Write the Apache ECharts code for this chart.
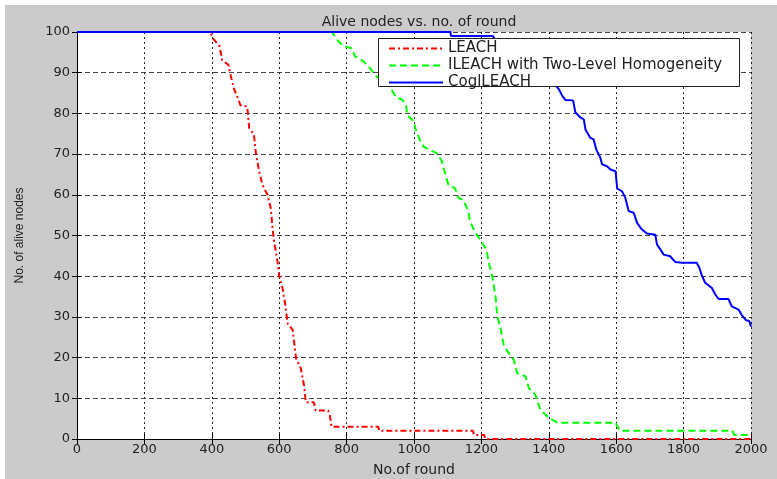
<!DOCTYPE html>
<html>
<head>
<meta charset="utf-8">
<script src="https://cdn.jsdelivr.net/npm/echarts@6/dist/echarts.min.js"></script>
<style>
  html, body { margin: 0; padding: 0; background: #fff; }
  #chart { position: absolute; left: 5px; top: 5px; width: 772px; height: 474px; }
</style>
</head>
<body>
<div id="chart"></div>
<script>
// tick labels
var xTicks = [0, 200, 400, 600, 800, 1000, 1200, 1400, 1600, 1800, 2000]
var yTicks = [0, 10, 20, 30, 40, 50, 60, 70, 80, 90, 100]
var seriesNames = ['LEACH', 'ILEACH with Two-Level Homogeneity', 'CoglLEACH']

// LEACH
var leachRound = [0, 395, 403, 423, 431, 449, 457, 466, 476, 485, 505, 511, 525, 530, 540, 550, 565, 575, 580, 585, 595, 600, 610, 618, 625, 640, 650, 664, 674, 679, 703, 708, 745, 750, 755, 894, 897, 1175, 1178, 1208, 1212, 2000]
var leachAlive = [100, 100, 98.5, 96.5, 93, 92, 89, 86, 84, 82, 81.7, 76.4, 74.8, 70.7, 66, 62.5, 60, 56.7, 52, 48.5, 43.6, 40, 37, 33, 28.4, 26.8, 19.8, 17.4, 13, 9, 9, 7, 7, 6, 3, 3, 2, 2, 1, 1, 0, 0]

// ILEACH with Two-Level Homogeneity
var ileachRound = [0, 756, 776, 791, 815, 825, 850, 870, 890, 910, 925, 937, 946, 966, 976, 980, 1000, 1005, 1020, 1029, 1049, 1068, 1083, 1093, 1102, 1122, 1132, 1146, 1161, 1166, 1180, 1193, 1198, 1215, 1222, 1232, 1242, 1247, 1257, 1267, 1281, 1296, 1306, 1331, 1341, 1360, 1375, 1400, 1425, 1598, 1611, 1945, 1950, 2000]
var ileachAlive = [100, 100, 97.7, 96.5, 96, 94, 92.8, 91, 89, 88, 87, 85.3, 84, 83.3, 82, 79.6, 78, 76, 73, 71.8, 71, 70.2, 68.2, 65, 62.5, 61.6, 59.2, 58.8, 56, 53.5, 51, 49.4, 48.6, 46.6, 43.3, 40, 35, 30.2, 27, 22.8, 21.1, 19.5, 16.2, 15.4, 12.5, 10.9, 7.2, 5.2, 4, 4, 2, 2, 1, 1]

// CoglLEACH
var coglRound = [0, 1108, 1110, 1235, 1240, 1260, 1280, 1300, 1320, 1345, 1370, 1395, 1415, 1430, 1440, 1449, 1472, 1479, 1494, 1504, 1509, 1523, 1533, 1541, 1553, 1558, 1573, 1583, 1598, 1603, 1617, 1627, 1637, 1652, 1662, 1675, 1691, 1716, 1721, 1731, 1741, 1760, 1775, 1795, 1839, 1847, 1854, 1864, 1884, 1894, 1904, 1933, 1943, 1963, 1972, 1985, 1995, 2000]
var coglAlive = [100, 100, 99, 99, 98, 97, 96, 95, 93.5, 92, 90.5, 89, 87.5, 85.9, 84.3, 83.3, 83.2, 80.2, 79, 78.5, 76, 74, 73.6, 71.1, 69.1, 67.5, 67, 66.2, 65.8, 61.5, 60.9, 59.3, 56, 55.6, 53.1, 51.6, 50.5, 50.2, 47.8, 46.6, 45.3, 44.9, 43.5, 43.3, 43.3, 42, 40.2, 38.4, 37.1, 35.5, 34.4, 34.4, 32.6, 31.8, 30.5, 29.2, 29, 27.6]

function pairs (xs, ys) {
  let out = []
  xs.forEach((x, i) => { out.push([x, ys[i]]) })
  return out
}

var font = 'DejaVu Sans'
var Chart = echarts.init(document.getElementById('chart'))

var boxAxis = {
  axisLine: { show: true, lineStyle: { color: '#000', width: 1 } },
  axisTick: { show: true, inside: true, length: 5, lineStyle: { color: '#000' } },
  axisLabel: { show: false },
  splitLine: { show: false }
}

Chart.setOption({
  backgroundColor: '#cbcbcb',
  animation: false,
  title: {
    text: 'Alive nodes vs. no. of round',
    left: 409,
    textAlign: 'center',
    top: 5,
    textStyle: { fontFamily: font, fontSize: 14, fontWeight: 'normal', color: '#222' }
  },
  // legend frame, drawn behind the legend items
  graphic: [{
    type: 'rect',
    left: 373,
    top: 33,
    z: 4,
    shape: { width: 361, height: 48 },
    style: { fill: '#fff', stroke: '#222', lineWidth: 1 }
  }],
  legend: {
    data: seriesNames,
    orient: 'vertical',
    left: 373,
    top: 33,
    z: 5,
    itemWidth: 54,
    itemHeight: 14,
    itemGap: 2,
    padding: [3, 8, 2, 10],
    itemStyle: { opacity: 0 },
    textStyle: { fontFamily: font, fontSize: 15, lineHeight: 14, color: '#222' }
  },
  grid: { left: 72, right: 26, top: 27, bottom: 40, show: true, backgroundColor: '#fff', borderWidth: 0, outerBoundsMode: 'none' },
  xAxis: [{
    type: 'value',
    min: 0,
    max: 2000,
    interval: 200,
    name: 'No.of round',
    nameLocation: 'middle',
    nameGap: 24,
    nameTextStyle: { fontFamily: font, fontSize: 14, color: '#222' },
    axisLine: { lineStyle: { color: '#000' } },
    axisTick: { inside: true, length: 5, lineStyle: { color: '#000' } },
    axisLabel: { margin: 4, fontFamily: font, fontSize: 13, color: '#222', formatter: (v) => xTicks.indexOf(v) >= 0 ? String(v) : '' },
    splitLine: { show: true, lineStyle: { color: '#222', type: [2, 3], width: 1 } }
  }, Object.assign({ type: 'value', position: 'top', min: 0, max: 2000, interval: 200 }, boxAxis)],
  yAxis: [{
    type: 'value',
    min: 0,
    max: 100,
    interval: 10,
    name: 'No. of alive nodes',
    nameLocation: 'middle',
    nameGap: 51,
    nameTextStyle: { fontFamily: 'Liberation Sans', fontSize: 12, color: '#222' },
    axisLine: { lineStyle: { color: '#000' } },
    axisTick: { inside: true, length: 5, lineStyle: { color: '#000' } },
    axisLabel: { margin: 7, fontFamily: font, fontSize: 13, color: '#222', formatter: (v) => yTicks.indexOf(v) >= 0 ? String(v) : '' },
    splitLine: { show: true, lineStyle: { color: '#444', type: [5, 3], width: 1 } }
  }, Object.assign({ type: 'value', position: 'right', min: 0, max: 100, interval: 10 }, boxAxis)],
  series: [{
    name: seriesNames[0],
    type: 'line',
    symbol: 'none',
    data: pairs(leachRound, leachAlive),
    lineStyle: { color: '#ff0000', width: 2, type: [6, 3, 2, 3] },
    itemStyle: { color: '#ff0000' }
  }, {
    name: seriesNames[1],
    type: 'line',
    symbol: 'none',
    data: pairs(ileachRound, ileachAlive),
    lineStyle: { color: '#00ff00', width: 2, type: [7, 4] },
    itemStyle: { color: '#00ff00' }
  }, {
    name: seriesNames[2],
    type: 'line',
    symbol: 'none',
    data: pairs(coglRound, coglAlive),
    lineStyle: { color: '#0000ff', width: 2 },
    itemStyle: { color: '#0000ff' }
  }]
})
</script>
</body>
</html>
